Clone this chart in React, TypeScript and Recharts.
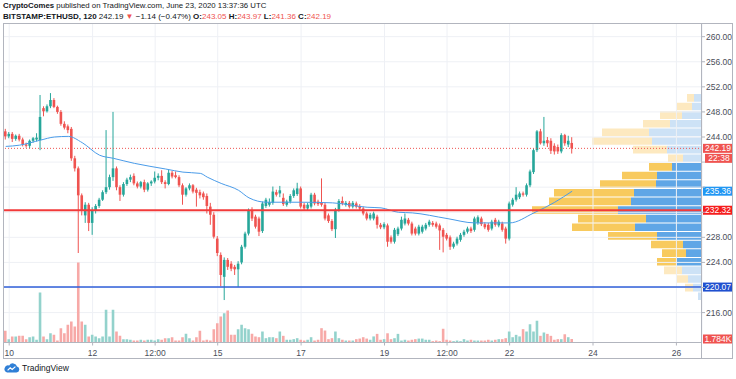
import React from 'react';
import {
  ComposedChart,
  BarChart,
  Bar,
  Line,
  XAxis,
  YAxis,
  CartesianGrid,
  ReferenceLine,
  Cell,
} from 'recharts';

// 2h candles, first one opens Jun 9 22:00 (hour -2 relative to Jun 10 00:00)
const FIRST_HOUR = -2;
const STEP_HOURS = 2;

const opens = [
  244.9, 244.1, 244.5, 243.7, 244.2, 243.6, 242.8, 242.6, 243.4, 243.6,
  243.5, 248.6, 248.1, 248.9, 249.9, 248.8, 248.0, 246.1, 245.7, 245.3,
  240.6, 239.0, 234.7, 231.5, 233.2, 230.3, 232.2, 233.0, 234.0, 235.2,
  236.0, 237.6, 239.0, 236.0, 234.8, 236.5, 237.2, 237.8, 236.6, 236.1,
  236.8, 235.6, 236.6, 236.9, 237.5, 237.8, 236.8, 236.5, 238.3, 237.9,
  237.6, 236.3, 234.8, 235.8, 236.3, 235.6, 235.2, 235.0, 234.6, 232.9,
  231.6, 227.8, 225.2, 221.7, 224.4, 223.8, 223.3, 222.9, 224.0, 226.5,
  228.6, 232.3, 231.3, 231.0, 229.0, 233.0, 233.2, 233.5, 235.2, 235.0,
  234.3, 233.2, 233.7, 234.6, 234.9, 235.8, 233.2, 232.6, 232.9, 234.8,
  233.7, 233.6, 233.2, 231.5, 230.6, 229.3, 232.4, 233.8, 233.2, 233.5,
  232.9, 233.4, 233.0, 232.6, 231.8, 231.0, 231.0, 231.3, 230.0, 229.6,
  229.9, 228.0, 227.3, 228.5, 229.4, 230.2, 230.8, 230.2, 229.4, 228.6,
  228.9, 229.4, 230.0, 230.3, 230.2, 229.9, 229.2, 228.4, 228.0, 226.5,
  227.0, 227.6, 228.4, 228.9, 229.4, 229.2, 230.3, 231.0, 230.1, 230.0,
  229.4, 230.8, 229.9, 230.2, 229.4, 227.8, 233.2, 234.0, 234.4, 235.0,
  234.8, 236.3, 238.4, 241.9, 244.9, 243.0, 243.5, 243.4, 242.6, 242.4,
  241.7, 244.3, 242.8, 243.05,
];
const highs = [
  245.3, 244.8, 244.8, 244.4, 244.5, 243.9, 243.1, 243.6, 244.0, 244.6,
  250.7, 248.9, 249.2, 251.0, 250.2, 249.0, 248.3, 246.5, 246.0, 245.6,
  241.0, 239.3, 235.0, 233.6, 233.5, 232.8, 233.3, 234.3, 235.5, 245.1,
  238.0, 248.0, 239.3, 236.3, 236.8, 237.5, 238.0, 238.2, 236.9, 237.0,
  237.2, 236.8, 237.1, 238.5, 238.2, 238.7, 237.1, 238.8, 238.6, 238.5,
  237.9, 236.6, 236.0, 236.6, 236.5, 235.9, 235.6, 235.3, 235.0, 233.5,
  232.0, 228.2, 225.6, 224.8, 224.7, 224.2, 223.6, 224.2, 226.8, 228.9,
  232.6, 232.8, 231.6, 231.3, 233.7, 234.3, 234.2, 236.1, 235.6, 236.2,
  235.0, 234.0, 234.9, 235.8, 236.7, 236.1, 233.5, 233.5, 235.1, 235.1,
  234.0, 237.4, 233.5, 231.8, 230.9, 232.7, 234.1, 234.5, 233.8, 233.8,
  233.8, 233.7, 233.3, 232.9, 232.1, 231.9, 232.1, 231.6, 230.3, 230.4,
  230.2, 228.3, 229.5, 229.7, 231.3, 231.8, 231.1, 230.5, 229.7, 230.0,
  230.0, 230.3, 230.8, 230.6, 230.5, 230.2, 229.5, 228.7, 228.3, 227.3,
  228.1, 228.7, 229.2, 229.7, 229.7, 231.3, 231.5, 231.3, 230.4, 230.3,
  230.8, 231.1, 230.8, 230.5, 229.7, 233.7, 234.3, 236.0, 235.3, 235.3,
  236.6, 238.8, 242.2, 245.1, 245.3, 247.2, 244.0, 243.8, 243.0, 242.8,
  244.6, 244.5, 244.2, 243.97,
];
const lows = [
  243.6, 243.8, 243.2, 243.4, 243.3, 242.5, 242.3, 242.2, 243.1, 243.3,
  241.9, 247.3, 247.9, 248.6, 248.6, 247.7, 245.8, 245.2, 244.6, 240.2,
  238.5, 225.5, 231.5, 230.3, 229.0, 228.4, 231.8, 232.7, 233.8, 234.9,
  235.6, 237.0, 235.5, 233.8, 234.5, 236.2, 236.8, 236.3, 235.8, 235.8,
  235.2, 235.3, 236.2, 236.6, 237.1, 236.5, 235.8, 236.3, 237.4, 237.4,
  236.0, 233.2, 234.5, 235.5, 235.0, 232.9, 234.2, 234.0, 231.8, 230.0,
  227.8, 225.0, 220.2, 218.0, 222.8, 222.6, 222.0, 220.1, 223.7, 226.2,
  228.3, 230.6, 229.4, 228.2, 228.7, 232.7, 232.9, 233.2, 234.5, 234.4,
  233.0, 232.9, 233.4, 234.3, 234.6, 232.6, 232.2, 232.3, 232.6, 233.1,
  233.0, 232.9, 230.7, 230.3, 229.0, 227.9, 232.1, 233.1, 232.9, 232.6,
  232.6, 232.6, 232.3, 231.5, 230.7, 230.7, 230.7, 229.4, 229.3, 229.3,
  226.5, 227.0, 227.0, 228.2, 229.1, 229.9, 229.9, 228.3, 228.3, 228.3,
  228.6, 229.1, 229.7, 229.7, 229.4, 226.0, 225.6, 227.5, 226.0, 226.2,
  226.7, 227.3, 228.1, 228.6, 228.7, 228.9, 230.0, 229.8, 229.3, 228.9,
  229.1, 229.7, 229.6, 228.9, 227.0, 227.5, 232.9, 233.7, 234.1, 234.5,
  234.5, 236.0, 238.1, 241.6, 242.8, 242.6, 242.4, 241.3, 241.2, 241.3,
  241.4, 242.6, 242.4, 241.36,
];
const closes = [
  244.1, 244.5, 243.7, 244.2, 243.6, 242.8, 242.6, 243.4, 243.8, 243.9,
  247.2, 248.1, 248.9, 249.9, 248.8, 248.0, 246.1, 245.5, 245.1, 240.6,
  239.0, 234.7, 232.3, 233.2, 230.3, 232.2, 233.0, 234.0, 235.2, 236.0,
  237.6, 239.0, 236.0, 234.8, 236.5, 237.2, 237.6, 236.6, 236.1, 236.8,
  235.6, 236.6, 236.9, 237.5, 237.8, 236.8, 236.5, 238.3, 237.7, 237.6,
  236.3, 234.8, 235.8, 236.3, 235.3, 235.1, 234.7, 234.4, 233.0, 231.6,
  228.1, 225.5, 222.0, 224.4, 223.3, 223.0, 222.9, 223.8, 226.5, 228.6,
  232.3, 231.0, 229.7, 228.9, 233.4, 234.0, 233.6, 235.3, 234.8, 235.5,
  233.3, 233.7, 234.6, 235.5, 235.8, 232.9, 232.6, 233.2, 234.8, 233.4,
  233.3, 233.2, 231.0, 230.6, 229.3, 232.4, 233.8, 233.4, 233.5, 232.9,
  233.5, 232.9, 232.6, 231.8, 231.0, 231.6, 231.8, 230.0, 229.6, 230.1,
  227.3, 227.3, 229.2, 229.4, 230.8, 231.0, 230.2, 228.6, 228.6, 229.7,
  229.7, 230.0, 230.5, 230.0, 229.7, 229.1, 228.1, 227.8, 226.5, 227.0,
  227.8, 228.4, 228.9, 229.4, 229.0, 231.0, 231.2, 230.1, 229.6, 229.2,
  230.5, 230.0, 230.5, 229.2, 227.8, 233.4, 234.0, 234.8, 235.0, 234.8,
  236.3, 238.5, 241.9, 244.9, 243.0, 243.4, 243.0, 241.8, 241.7, 241.7,
  244.3, 243.0, 243.4, 242.19,
];
// volume, thousands
const volumes = [
  6.0, 1.7, 3.1, 3.1, 3.4, 3.4, 1.7, 2.7, 3.1, 1.4,
  25.5, 3.1, 1.7, 4.7, 3.9, 1.0, 7.3, 4.7, 9.0, 10.7,
  8.2, 40.8, 10.7, 9.0, 3.1, 3.9, 3.1, 2.2, 3.1, 16.7,
  3.1, 16.7, 5.6, 3.4, 1.7, 1.7, 1.4, 1.0, 1.0, 1.4,
  1.0, 1.4, 1.4, 1.0, 1.7, 1.4, 2.2, 2.2, 2.7, 1.0,
  1.0, 2.7, 4.4, 2.2, 1.0, 2.7, 6.0, 1.0, 1.4, 1.0,
  6.8, 9.8, 13.3, 14.9, 16.3, 3.9, 3.9, 6.8, 9.0, 7.3,
  6.8, 4.4, 3.1, 2.7, 5.6, 2.2, 2.7, 2.7, 2.2, 5.6,
  3.4, 1.4, 1.4, 1.7, 2.2, 1.4, 1.0, 1.4, 2.7, 1.0,
  1.4, 7.3, 6.1, 1.7, 2.2, 5.6, 2.2, 1.4, 1.0, 1.0,
  1.0, 1.7, 2.0, 2.7, 2.0, 1.4, 3.1, 4.4, 1.4, 1.7,
  4.7, 1.7, 2.2, 4.4, 1.0, 1.4, 1.0, 1.4, 1.7, 2.0,
  2.0, 1.4, 1.4, 0.7, 1.0, 0.7, 7.0, 1.4, 1.0, 0.7,
  1.0, 0.7, 1.7, 1.0, 1.4, 1.0, 1.0, 1.0, 1.0, 1.4,
  1.0, 1.4, 1.7, 1.7, 2.2, 5.6, 2.7, 3.9, 3.1, 6.8,
  5.6, 9.3, 5.6, 11.1, 3.4, 5.1, 4.4, 3.4, 1.4, 1.7,
  1.7, 4.2, 2.7, 1.784,
];

// moving average, read at a few candles
const maIndex = [0, 4, 10, 14, 18, 22, 27, 31, 37, 46, 51, 56, 58, 62, 67, 70, 75, 85, 94, 104, 108, 113, 117, 127, 135, 145, 152, 158, 163];
const maValue = [242.5, 242.7, 243.5, 244.0, 244.1, 243.1, 241.1, 240.6, 239.8, 238.9, 238.4, 238.2, 237.6, 236.6, 235.5, 234.3, 233.6, 233.6, 233.5, 232.8, 232.7, 232.0, 231.9, 231.0, 230.3, 230.3, 231.9, 233.6, 235.36];

// visible range volume profile, 24 rows top -> bottom
const vpHigh = 251.0;
const vpLow = 218.0;
const vpUp = [8, 10, 20, 32, 53, 50, 35, 19, 30, 45, 46, 68, 71, 84, 56, 67, 45, 19, 16, 25, 20, 14, 9, 4];
const vpDown = [7, 15, 22, 27, 47, 60, 34, 15, 23, 35, 56, 80, 82, 86, 68, 63, 49, 32, 24, 20, 18, 11, 8, 0];
const vpValueArea = [8, 19];

const timeTicks = [0, 48, 84, 120, 168, 216, 252, 288, 336, 384];
const timeLabels = ['10', '12', '12:00', '15', '17', '19', '12:00', '22', '24', '26'];
const priceTicks = [216, 220, 224, 228, 232, 236, 240, 244, 248, 252, 256, 260];
const hiddenPriceTicks = [220, 232, 236, 240];

const lastPrice = 242.19;
const supportRed = 232.32;
const supportBlue = 220.07;
const lastVolume = 1.784;

const UP = '#26a69a';
const DOWN = '#ef5350';
const VOL_UP = '#93d2cc';
const VOL_DOWN = '#f7a9a7';
const FONT = '"Liberation Sans", Arial, sans-serif';
const AXIS_TEXT = '#4a4e59';
const FRAME = '#b2b5be';

const TIME_DOMAIN: [number, number] = [-3.28, 398.73];
const PRICE_DOMAIN: [number, number] = [211.23, 262.1];
const MARGIN = { top: 23.5, right: 0, bottom: 21, left: 3.5 };

const maMap = new Map(maIndex.map((idx, k) => [idx, maValue[k]]));
const data = closes.map((c, i) => ({
  t: FIRST_HOUR + STEP_HOURS * i,
  o: opens[i],
  h: highs[i],
  l: lows[i],
  c,
  v: volumes[i],
  ma: maMap.has(i) ? maMap.get(i) : null,
}));

const rowSize = (vpHigh - vpLow) / vpUp.length;
const profile = vpUp.map((up, k) => ({
  mid: vpHigh - (k + 0.5) * rowSize,
  up,
  down: vpDown[k],
  va: k >= vpValueArea[0] && k <= vpValueArea[1],
}));

const Candle = (props: any) => {
  const { x, y, width, height, payload } = props;
  if (x == null || y == null || !payload) return null;
  const { o, h, l, c } = payload;
  const top = height < 0 ? y + height : y;
  const span = Math.abs(height);
  const k = span / (h - l);
  const bodyTop = top + (h - Math.max(o, c)) * k;
  const bodyH = Math.max(1, Math.abs(o - c) * k);
  const color = c >= o ? UP : DOWN;
  const cx = x + width / 2;
  return (
    <g>
      <line x1={cx} x2={cx} y1={top} y2={top + span} stroke={color} strokeWidth={1} />
      <rect x={x} y={bodyTop} width={width} height={bodyH} fill={color} />
    </g>
  );
};

const PriceTick = (props: any) => {
  const { x, y, payload } = props;
  if (hiddenPriceTicks.includes(payload.value)) return <g />;
  return (
    <text x={x} y={y} dy={3} fontSize={8.5} fill={AXIS_TEXT} fontFamily={FONT} textAnchor="start">
      {payload.value.toFixed(2)}
    </text>
  );
};

const axisTag = (text: string, bg: string, below?: { text: string; bg: string }) => (props: any) => {
  const vb = props.viewBox;
  if (!vb) return null;
  const x = vb.x + vb.width + 1;
  const y = vb.y;
  return (
    <g>
      <rect x={x} y={y - 4.5} width={30} height={9} fill={bg} />
      <text x={x + 15} y={y + 3} textAnchor="middle" fill="#fff" fontSize={8.5} fontFamily={FONT}>
        {text}
      </text>
      {below && (
        <g>
          <rect x={x + 2} y={y + 5.5} width={28} height={9} fill={below.bg} />
          <text x={x + 16} y={y + 13} textAnchor="middle" fill="#fff" fontSize={8.5} fontFamily={FONT}>
            {below.text}
          </text>
        </g>
      )}
    </g>
  );
};

const red = { color: DOWN };
const b = { fontWeight: 700 };

export default function App() {
  return (
    <div
      style={{
        position: 'absolute',
        left: 0,
        top: 0,
        width: 736,
        height: 379,
        background: '#fff',
        overflow: 'hidden',
        fontFamily: FONT,
        color: '#131722',
      }}
    >
      <div style={{ position: 'absolute', left: 3, top: 1, fontSize: 7.8, whiteSpace: 'nowrap' }}>
        <span style={b}>CryptoComes</span> published on TradingView.com, June 23, 2020 13:37:36 UTC
      </div>
      <div style={{ position: 'absolute', left: 3, top: 11.5, fontSize: 8, whiteSpace: 'nowrap' }}>
        <span style={b}>BITSTAMP:ETHUSD, 120</span> 242.19 <span style={red}>▼</span> −1.14 (−0.47%){' '}
        <span style={b}>O:</span><span style={red}>243.05</span> <span style={b}>H:</span>
        <span style={red}>243.97</span> <span style={b}>L:</span><span style={red}>241.36</span>{' '}
        <span style={b}>C:</span><span style={red}>242.19</span>
      </div>

      {/* volume profile, drawn underneath the price pane */}
      <div style={{ position: 'absolute', left: 0, top: 0 }}>
        <BarChart
          width={736}
          height={379}
          data={profile}
          layout="vertical"
          margin={{ top: 23.5, right: 34, bottom: 36.5, left: 3.5 }}
        >
          <XAxis type="number" domain={[0, 698.5]} reversed allowDataOverflow hide />
          <YAxis type="number" dataKey="mid" domain={PRICE_DOMAIN} reversed allowDataOverflow hide />
          <Bar dataKey="up" stackId="vp" barSize={7.6} isAnimationActive={false}>
            {profile.map((r, i) => (
              <Cell key={i} fill={r.va ? '#5fa6e6' : '#cde2f6'} />
            ))}
          </Bar>
          <Bar dataKey="down" stackId="vp" barSize={7.6} isAnimationActive={false}>
            {profile.map((r, i) => (
              <Cell key={i} fill={r.va ? '#f8ca5e' : '#fde9c0'} />
            ))}
          </Bar>
        </BarChart>
      </div>

      <div style={{ position: 'absolute', left: 0, top: 0 }}>
        <ComposedChart width={736} height={379} data={data} margin={MARGIN}>
          <CartesianGrid stroke="#eef0f5" />
          <XAxis
            dataKey="t"
            type="number"
            domain={TIME_DOMAIN}
            allowDataOverflow
            ticks={timeTicks}
            tickFormatter={(v: number) => timeLabels[timeTicks.indexOf(v)]}
            axisLine={false}
            tickLine={{ stroke: FRAME }}
            tickSize={3}
            tickMargin={4}
            height={15.5}
            tick={{ fontSize: 8.5, fill: AXIS_TEXT, fontFamily: FONT }}
          />
          <XAxis xAxisId="vx" dataKey="t" type="number" domain={TIME_DOMAIN} allowDataOverflow hide />
          <YAxis
            orientation="right"
            width={34}
            domain={PRICE_DOMAIN}
            allowDataOverflow
            ticks={priceTicks}
            interval={0}
            axisLine={false}
            tickLine={{ stroke: FRAME }}
            tickSize={3}
            tickMargin={1}
            tick={<PriceTick />}
          />
          <YAxis yAxisId="vol" domain={[0, 162.6]} hide />

          <Bar xAxisId="vx" yAxisId="vol" dataKey="v" barSize={2.6} isAnimationActive={false}>
            {data.map((d, i) => (
              <Cell key={i} fill={d.c >= d.o ? VOL_UP : VOL_DOWN} />
            ))}
          </Bar>
          <Bar dataKey={(d: any) => [d.l, d.h]} barSize={2.6} shape={<Candle />} isAnimationActive={false} />
          <Line
            dataKey="ma"
            type="monotone"
            connectNulls
            dot={false}
            stroke="#4a9be8"
            strokeWidth={1}
            isAnimationActive={false}
          />

          <ReferenceLine y={supportRed} stroke="#f23a3a" strokeWidth={2} label={axisTag('232.32', '#f51d1d')} />
          <ReferenceLine y={supportBlue} stroke="#2f5fd8" strokeWidth={1.5} label={axisTag('220.07', '#1f4fcf')} />
          <ReferenceLine
            y={lastPrice}
            stroke={DOWN}
            strokeDasharray="1 2"
            strokeWidth={1}
            label={axisTag('242.19', DOWN, { text: '22:38', bg: DOWN })}
          />
          <ReferenceLine y={maValue[maValue.length - 1]} stroke="transparent" label={axisTag('235.36', '#2196f3')} />
          <ReferenceLine yAxisId="vol" y={lastVolume} stroke="transparent" label={axisTag('1.784K', DOWN)} />
        </ComposedChart>
      </div>

      {/* chart frame and pane separators */}
      <div
        style={{
          position: 'absolute',
          left: 3,
          top: 23,
          width: 730,
          height: 336,
          boxSizing: 'border-box',
          border: `1px solid ${FRAME}`,
          pointerEvents: 'none',
        }}
      />
      <div style={{ position: 'absolute', left: 701, top: 23, width: 1, height: 336, background: FRAME }} />
      <div style={{ position: 'absolute', left: 3, top: 342, width: 699, height: 1, background: FRAME }} />

      <div style={{ position: 'absolute', left: 4, top: 362, display: 'flex', alignItems: 'center' }}>
        <svg width="16" height="11" viewBox="0 0 16 11">
          <path d="M3 10.5 H12.5 A3 3 0 0 0 13 4.6 A4.2 4.2 0 0 0 5.2 3.6 A3.4 3.4 0 0 0 3 10.5 Z" fill="#2f7fd6" />
          <path d="M3.6 8.4 L6.2 5.8 L8.2 7.4 L11.4 4.6" stroke="#fff" strokeWidth={1.2} fill="none" />
        </svg>
        <span style={{ fontSize: 8.5, marginLeft: 2, color: '#131722' }}>TradingView</span>
      </div>
    </div>
  );
}
